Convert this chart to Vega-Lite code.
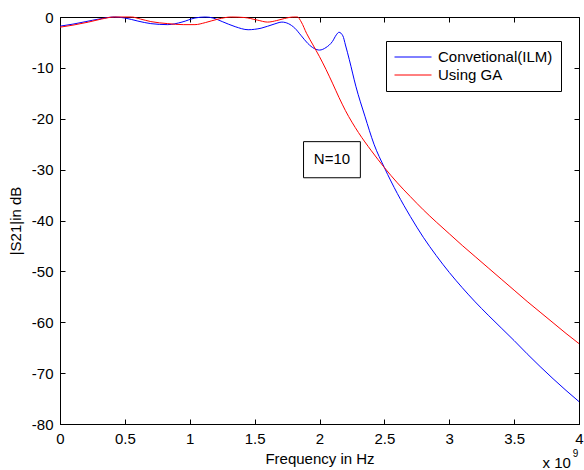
{
  "$schema": "https://vega.github.io/schema/vega-lite/v6.json",
  "width": 519,
  "height": 407,
  "autosize": {"type": "none"},
  "padding": {"left": 60, "top": 17, "right": 5, "bottom": 46},
  "background": "white",
  "config": {
    "font": "Liberation Sans",
    "view": {"stroke": "black", "strokeWidth": 1},
    "axis": {
      "grid": false,
      "domainColor": "black",
      "tickColor": "black",
      "labelColor": "black",
      "titleColor": "black",
      "labelFontSize": 15,
      "titleFontSize": 15,
      "titleFontWeight": "normal",
      "labelFlush": false,
      "labelOverlap": false,
      "tickSize": -5
    }
  },
  "datasets": {
    "curves": [
      {"freq": 0.0, "s21": -1.8, "series": "Convetional(ILM)"},
      {"freq": 0.1, "s21": -1.4, "series": "Convetional(ILM)"},
      {"freq": 0.2, "s21": -0.9, "series": "Convetional(ILM)"},
      {"freq": 0.3, "s21": -0.4, "series": "Convetional(ILM)"},
      {"freq": 0.42, "s21": 0.0, "series": "Convetional(ILM)"},
      {"freq": 0.5, "s21": -0.2, "series": "Convetional(ILM)"},
      {"freq": 0.6, "s21": -0.8, "series": "Convetional(ILM)"},
      {"freq": 0.7, "s21": -1.3, "series": "Convetional(ILM)"},
      {"freq": 0.83, "s21": -1.5, "series": "Convetional(ILM)"},
      {"freq": 0.94, "s21": -1.0, "series": "Convetional(ILM)"},
      {"freq": 1.04, "s21": -0.2, "series": "Convetional(ILM)"},
      {"freq": 1.12, "s21": 0.0, "series": "Convetional(ILM)"},
      {"freq": 1.18, "s21": -0.2, "series": "Convetional(ILM)"},
      {"freq": 1.25, "s21": -0.9, "series": "Convetional(ILM)"},
      {"freq": 1.35, "s21": -1.9, "series": "Convetional(ILM)"},
      {"freq": 1.45, "s21": -2.5, "series": "Convetional(ILM)"},
      {"freq": 1.55, "s21": -2.2, "series": "Convetional(ILM)"},
      {"freq": 1.65, "s21": -1.4, "series": "Convetional(ILM)"},
      {"freq": 1.71, "s21": -1.0, "series": "Convetional(ILM)"},
      {"freq": 1.76, "s21": -1.3, "series": "Convetional(ILM)"},
      {"freq": 1.81, "s21": -2.2, "series": "Convetional(ILM)"},
      {"freq": 1.86, "s21": -3.7, "series": "Convetional(ILM)"},
      {"freq": 1.91, "s21": -5.2, "series": "Convetional(ILM)"},
      {"freq": 1.96, "s21": -6.2, "series": "Convetional(ILM)"},
      {"freq": 2.0, "s21": -6.5, "series": "Convetional(ILM)"},
      {"freq": 2.05, "s21": -6.0, "series": "Convetional(ILM)"},
      {"freq": 2.1, "s21": -4.8, "series": "Convetional(ILM)"},
      {"freq": 2.13, "s21": -3.5, "series": "Convetional(ILM)"},
      {"freq": 2.15, "s21": -3.0, "series": "Convetional(ILM)"},
      {"freq": 2.18, "s21": -3.7, "series": "Convetional(ILM)"},
      {"freq": 2.2, "s21": -5.5, "series": "Convetional(ILM)"},
      {"freq": 2.23, "s21": -8.4, "series": "Convetional(ILM)"},
      {"freq": 2.28, "s21": -13.6, "series": "Convetional(ILM)"},
      {"freq": 2.35, "s21": -19.5, "series": "Convetional(ILM)"},
      {"freq": 2.42, "s21": -25.0, "series": "Convetional(ILM)"},
      {"freq": 2.5, "s21": -29.6, "series": "Convetional(ILM)"},
      {"freq": 2.6, "s21": -34.7, "series": "Convetional(ILM)"},
      {"freq": 2.7, "s21": -39.2, "series": "Convetional(ILM)"},
      {"freq": 2.8, "s21": -43.3, "series": "Convetional(ILM)"},
      {"freq": 2.9, "s21": -46.9, "series": "Convetional(ILM)"},
      {"freq": 3.0, "s21": -50.2, "series": "Convetional(ILM)"},
      {"freq": 3.1, "s21": -53.2, "series": "Convetional(ILM)"},
      {"freq": 3.2, "s21": -56.0, "series": "Convetional(ILM)"},
      {"freq": 3.3, "s21": -58.6, "series": "Convetional(ILM)"},
      {"freq": 3.4, "s21": -61.1, "series": "Convetional(ILM)"},
      {"freq": 3.5, "s21": -63.6, "series": "Convetional(ILM)"},
      {"freq": 3.6, "s21": -66.2, "series": "Convetional(ILM)"},
      {"freq": 3.7, "s21": -68.7, "series": "Convetional(ILM)"},
      {"freq": 3.8, "s21": -71.1, "series": "Convetional(ILM)"},
      {"freq": 3.9, "s21": -73.4, "series": "Convetional(ILM)"},
      {"freq": 4.0, "s21": -75.6, "series": "Convetional(ILM)"},
      {"freq": 0.0, "s21": -2.0, "series": "Using GA"},
      {"freq": 0.1, "s21": -1.6, "series": "Using GA"},
      {"freq": 0.22, "s21": -1.0, "series": "Using GA"},
      {"freq": 0.32, "s21": -0.4, "series": "Using GA"},
      {"freq": 0.42, "s21": 0.0, "series": "Using GA"},
      {"freq": 0.55, "s21": 0.0, "series": "Using GA"},
      {"freq": 0.62, "s21": -0.4, "series": "Using GA"},
      {"freq": 0.7, "s21": -0.9, "series": "Using GA"},
      {"freq": 0.83, "s21": -1.3, "series": "Using GA"},
      {"freq": 0.95, "s21": -1.5, "series": "Using GA"},
      {"freq": 1.04, "s21": -1.5, "series": "Using GA"},
      {"freq": 1.12, "s21": -1.1, "series": "Using GA"},
      {"freq": 1.22, "s21": -0.4, "series": "Using GA"},
      {"freq": 1.32, "s21": 0.0, "series": "Using GA"},
      {"freq": 1.42, "s21": -0.1, "series": "Using GA"},
      {"freq": 1.52, "s21": -0.6, "series": "Using GA"},
      {"freq": 1.6, "s21": -1.0, "series": "Using GA"},
      {"freq": 1.67, "s21": -0.7, "series": "Using GA"},
      {"freq": 1.73, "s21": -0.3, "series": "Using GA"},
      {"freq": 1.8, "s21": 0.0, "series": "Using GA"},
      {"freq": 1.83, "s21": 0.0, "series": "Using GA"},
      {"freq": 1.86, "s21": -1.0, "series": "Using GA"},
      {"freq": 1.9, "s21": -3.2, "series": "Using GA"},
      {"freq": 1.95, "s21": -5.5, "series": "Using GA"},
      {"freq": 2.0, "s21": -7.8, "series": "Using GA"},
      {"freq": 2.05, "s21": -10.3, "series": "Using GA"},
      {"freq": 2.1, "s21": -13.0, "series": "Using GA"},
      {"freq": 2.15, "s21": -15.8, "series": "Using GA"},
      {"freq": 2.2, "s21": -18.4, "series": "Using GA"},
      {"freq": 2.3, "s21": -22.7, "series": "Using GA"},
      {"freq": 2.4, "s21": -26.3, "series": "Using GA"},
      {"freq": 2.5, "s21": -29.6, "series": "Using GA"},
      {"freq": 2.6, "s21": -32.6, "series": "Using GA"},
      {"freq": 2.7, "s21": -35.3, "series": "Using GA"},
      {"freq": 2.8, "s21": -37.9, "series": "Using GA"},
      {"freq": 2.9, "s21": -40.3, "series": "Using GA"},
      {"freq": 3.0, "s21": -42.6, "series": "Using GA"},
      {"freq": 3.1, "s21": -44.9, "series": "Using GA"},
      {"freq": 3.2, "s21": -47.1, "series": "Using GA"},
      {"freq": 3.3, "s21": -49.3, "series": "Using GA"},
      {"freq": 3.4, "s21": -51.5, "series": "Using GA"},
      {"freq": 3.5, "s21": -53.7, "series": "Using GA"},
      {"freq": 3.6, "s21": -55.9, "series": "Using GA"},
      {"freq": 3.7, "s21": -58.0, "series": "Using GA"},
      {"freq": 3.8, "s21": -60.1, "series": "Using GA"},
      {"freq": 3.9, "s21": -62.2, "series": "Using GA"},
      {"freq": 4.0, "s21": -64.2, "series": "Using GA"}
    ],
    "box": [
      {"x": 1.877, "x2": 2.315, "y": -24.5, "y2": -31.6, "label": "N=10", "xc": 2.096, "yc": -28.0}
    ],
    "expo": [
      {"x": 3.938, "y": -87.6, "label": "x 10"}
    ],
    "sup": [
      {"x": 3.952, "y": -85.8, "label": "9"}
    ]
  },
  "resolve": {"axis": {"x": "independent", "y": "independent"}},
  "layer": [
    {
      "data": {"name": "curves"},
      "mark": {"type": "line", "strokeWidth": 1, "interpolate": "monotone"},
      "encoding": {
        "x": {
          "field": "freq", "type": "quantitative",
          "scale": {"domain": [0, 4], "nice": false, "zero": false},
          "axis": {
            "orient": "bottom",
            "values": [0, 0.5, 1, 1.5, 2, 2.5, 3, 3.5, 4],
            "labelExpr": "'' + datum.value",
            "labelPadding": 12,
            "title": "Frequency in Hz",
            "titlePadding": 5
          }
        },
        "y": {
          "field": "s21", "type": "quantitative",
          "scale": {"domain": [-80, 0], "nice": false, "zero": false},
          "axis": {
            "orient": "left",
            "values": [-80, -70, -60, -50, -40, -30, -20, -10, 0],
            "labelExpr": "'' + datum.value",
            "labelPadding": 12,
            "title": "|S21|in dB",
            "titlePadding": 8
          }
        },
        "color": {
          "field": "series", "type": "nominal",
          "scale": {"domain": ["Convetional(ILM)", "Using GA"], "range": ["#0000ff", "#ff0000"]},
          "legend": {
            "orient": "none",
            "legendX": 326,
            "legendY": 24,
            "title": null,
            "symbolType": "stroke",
            "symbolSize": 1369,
            "symbolStrokeWidth": 1,
            "labelFontSize": 15,
            "labelColor": "black",
            "labelOffset": 6,
            "strokeColor": "black",
            "fillColor": "white",
            "padding": 8,
            "clipHeight": 16,
            "rowPadding": 2
          }
        }
      }
    },
    {
      "data": {"name": "box"},
      "mark": {"type": "rect", "fill": "white", "stroke": "black", "strokeWidth": 1},
      "encoding": {
        "x": {"field": "x", "type": "quantitative", "axis": {"orient": "top", "labels": false, "domain": false, "title": null, "values": [0, 0.5, 1, 1.5, 2, 2.5, 3, 3.5, 4]}},
        "x2": {"field": "x2"},
        "y": {"field": "y", "type": "quantitative", "axis": {"orient": "right", "labels": false, "domain": false, "title": null, "values": [-80, -70, -60, -50, -40, -30, -20, -10, 0]}},
        "y2": {"field": "y2"}
      }
    },
    {
      "data": {"name": "box"},
      "mark": {"type": "text", "fontSize": 15, "color": "black", "align": "center", "baseline": "middle"},
      "encoding": {
        "x": {"field": "xc", "type": "quantitative", "axis": null},
        "y": {"field": "yc", "type": "quantitative", "axis": null},
        "text": {"field": "label"}
      }
    },
    {
      "data": {"name": "expo"},
      "mark": {"type": "text", "fontSize": 15, "color": "black", "align": "right", "baseline": "middle"},
      "encoding": {
        "x": {"field": "x", "type": "quantitative", "axis": null},
        "y": {"field": "y", "type": "quantitative", "axis": null},
        "text": {"field": "label"}
      }
    },
    {
      "data": {"name": "sup"},
      "mark": {"type": "text", "fontSize": 10, "color": "black", "align": "left", "baseline": "middle"},
      "encoding": {
        "x": {"field": "x", "type": "quantitative", "axis": null},
        "y": {"field": "y", "type": "quantitative", "axis": null},
        "text": {"field": "label"}
      }
    }
  ]
}
